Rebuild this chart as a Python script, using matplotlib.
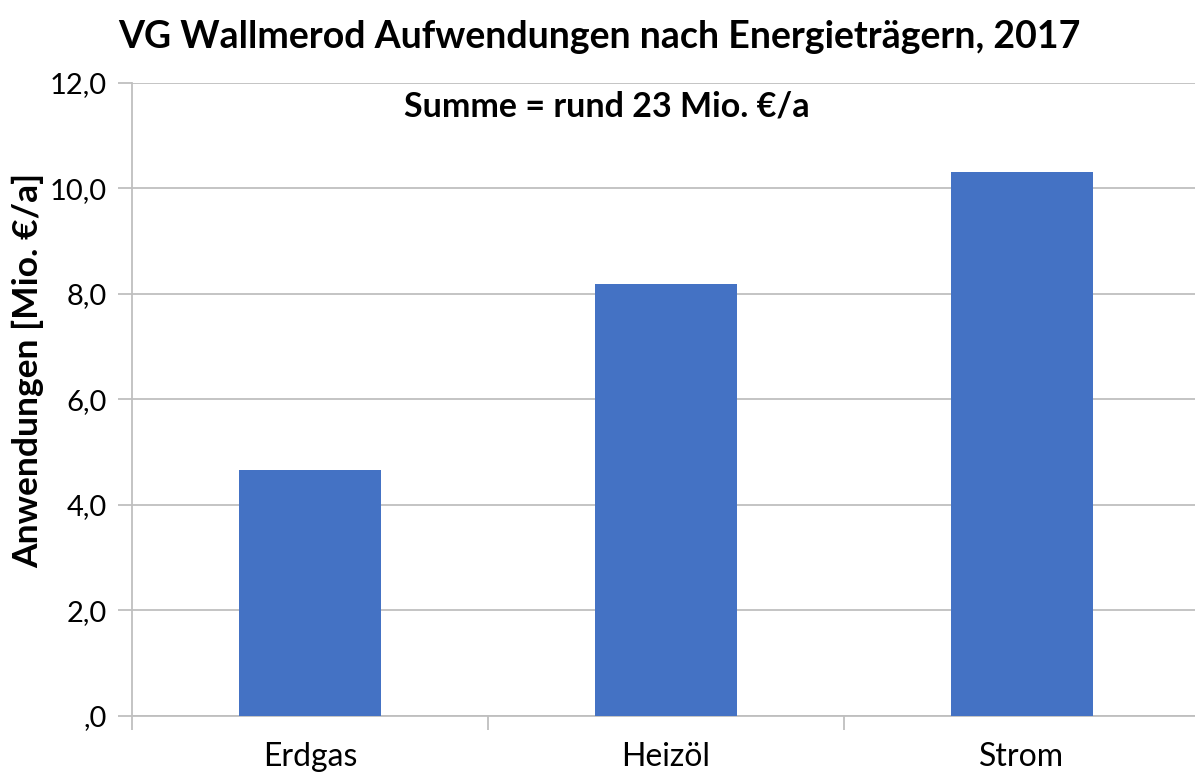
import matplotlib
matplotlib.use("Agg")
import matplotlib.pyplot as plt
from matplotlib.ticker import FixedLocator, FuncFormatter

categories = ["Erdgas", "Heizöl", "Strom"]
values = [4.67, 8.18, 10.31]
y_ticks = [0, 2, 4, 6, 8, 10, 12]

C_BAR = "#4472C4"
C_GRID = "#BFBFBF"

plt.rcParams["font.family"] = ["Lato", "DejaVu Sans"]

W, H = 1195, 776
fig = plt.figure(figsize=(W / 100, H / 100), dpi=100)
ax = fig.add_axes([132 / W, 1 - 716 / H, 1068 / W, (716 - 82.7) / H])

x = list(range(len(categories)))
ax.bar(x, values, width=0.4, color=C_BAR, zorder=3)

ax.set_xlim(-0.5, len(categories) - 0.5)
ax.set_ylim(0, 12)
ax.yaxis.set_major_locator(FixedLocator(y_ticks))


def fmt(v, pos):
    s = f"{v:.1f}".replace(".", ",")
    return s[1:] if s.startswith("0") else s


ax.yaxis.set_major_formatter(FuncFormatter(fmt))
ax.grid(axis="y", color=C_GRID, linewidth=1.3, zorder=0)
ax.tick_params(axis="y", length=10, width=1.3, color=C_GRID,
               labelsize=21, pad=8)

ax.set_xticks(x)
ax.set_xticklabels(categories)
ax.set_xticks([i - 0.5 for i in range(len(categories) + 1)], minor=True)
ax.tick_params(axis="x", which="major", length=0, labelsize=23, pad=19)
ax.tick_params(axis="x", which="minor", length=10, width=1.3, color=C_GRID)

for side in ["top", "right"]:
    ax.spines[side].set_visible(False)
for side in ["left", "bottom"]:
    ax.spines[side].set_color(C_GRID)
    ax.spines[side].set_linewidth(1.3)

ax.set_ylabel("Anwendungen [Mio. €/a]", fontsize=25.5, fontweight="bold")
ax.yaxis.set_label_coords(-0.082, 0.545)

fig.text(118 / W, 1 - 37 / H,
         "VG Wallmerod Aufwendungen nach Energieträgern, 2017",
         fontsize=27, fontweight="bold", ha="left", va="center")
ax.text(0.445, 0.962, "Summe = rund 23 Mio. €/a", transform=ax.transAxes,
        fontsize=24.5, fontweight="bold", ha="center", va="center")

fig.savefig("out.png", dpi=100, facecolor="white")
